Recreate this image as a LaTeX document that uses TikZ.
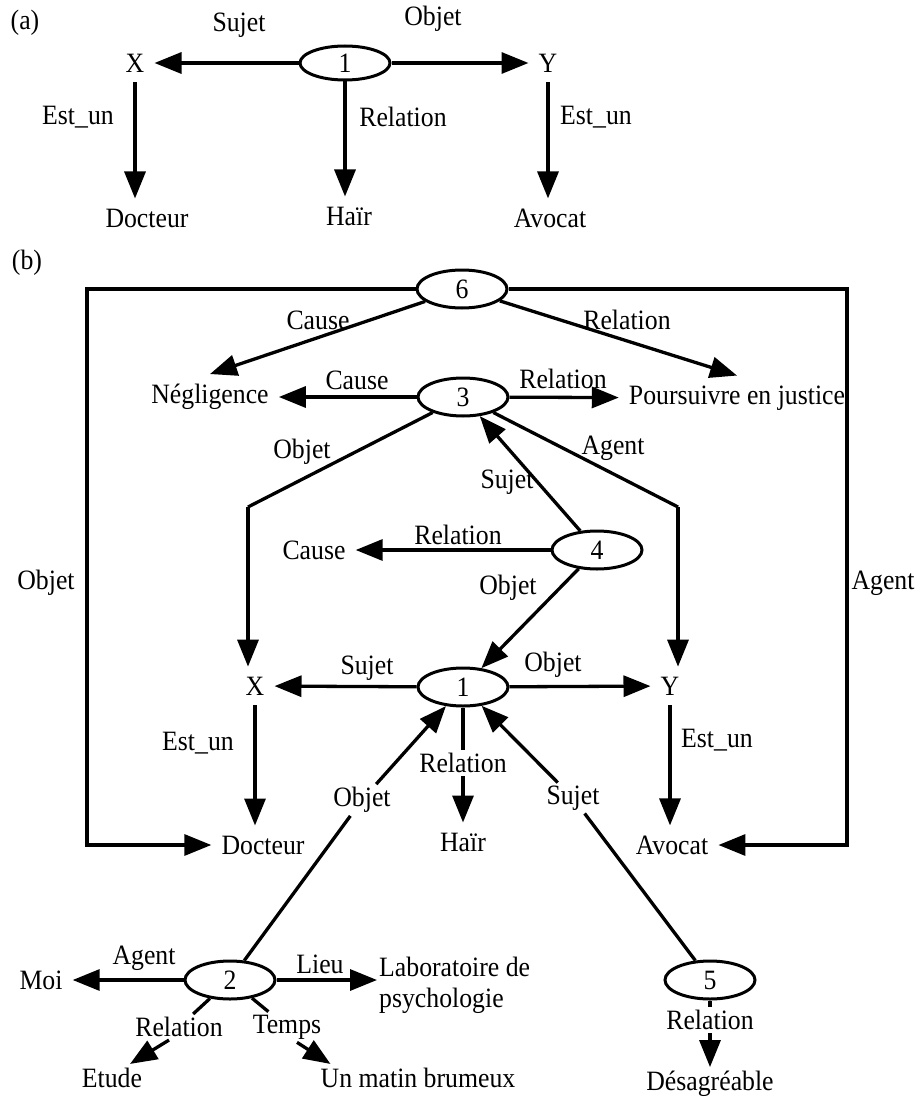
\documentclass[tikz,border=0pt]{standalone}
\usepackage{fontspec}
\setmainfont{Liberation Serif}[FakeStretch=0.92]
\usetikzlibrary{arrows.meta,shapes.geometric,calc}
\begin{document}
\begin{tikzpicture}[x=1pt,y=-1pt,
  every node/.style={font=\fontsize{28}{31}\selectfont},
  term/.style={inner sep=10pt},
  terms/.style={inner sep=4pt},
  lab/.style={inner sep=3pt},
  ell/.style={draw,ellipse,line width=3pt,minimum width=90pt,minimum height=38pt,inner sep=0pt},
  ln/.style={line width=3.3pt,line join=miter},
  arr/.style={ln,-{Triangle[length=27pt,width=21pt]}}]
\fill[white] (0,0) rectangle (920,1099);
\useasboundingbox (0,0) rectangle (920,1099);

% ---------------- (a) ----------------
\node[lab] (pa) at (25,23) {(a)};
\node[term] (Xa) at (135,63) {X};
\node[ell,minimum height=34pt] (e1a) at (345,63) {1};
\node[term] (Ya) at (548,63) {Y};
\node[term] (Doca) at (147,218) {Docteur};
\node[term] (Haira) at (349,216) {Haïr};
\node[term] (Avoa) at (550,218) {Avocat};
\node[lab] (sa) at (239,25) {Sujet};
\node[lab] (oa) at (433,19) {Objet};
\node[lab] (ea1) at (78,117) {Est\_un};
\node[lab] (ra) at (403,117) {Relation};
\node[lab] (ea2) at (596,117) {Est\_un};
\draw[arr] (e1a) -- (Xa);
\draw[arr] (e1a) -- (Ya);
\draw[arr] (Xa.south) -- (Xa.south |- Doca.north);
\draw[arr] (e1a.south) -- (e1a.south |- Haira.north);
\draw[arr] (Ya.south) -- (Ya.south |- Avoa.north);

% ---------------- (b) ----------------
\node[lab] (pb) at (27,263) {(b)};
\node[ell] (e6) at (462,289) {6};
\node[ell] (e3) at (463,397) {3};
\node[ell] (e4) at (597,550) {4};
\node[ell] (e1) at (463,687) {1};
\node[ell] (e2) at (230,980) {2};
\node[ell] (e5) at (710,980) {5};

\node[term] (Neg) at (210,397) {Négligence};
\node[term] (Pours) at (737,398) {Poursuivre en justice};
\node[term] (Cause4) at (314,550) {Cause};
\node[term] (Xb) at (255,686) {X};
\node[term] (Yb) at (670,686) {Y};
\node[term] (Docb) at (263,845) {Docteur};
\node[term] (Hairb) at (463,842) {Haïr};
\node[term] (Avob) at (672,845) {Avocat};
\node[term] (Moi) at (41,980) {Moi};
\node[inner sep=2pt,anchor=west,align=left] (Labo) at (377,985) {Laboratoire de\\psychologie};
\node[terms] (Etude) at (112,1078) {Etude};
\node[terms] (Unmatin) at (418,1078) {Un matin brumeux};
\node[terms] (Des) at (710,1084) {Désagréable};

\coordinate (tl) at (87,289);
\coordinate (bl) at (87,845);
\coordinate (tr) at (847,289);
\coordinate (br) at (847,845);
\coordinate (cornerL) at (248,507);
\coordinate (cornerR) at (678,507);

% edge labels
\node[lab] (Cause6) at (318,320) {Cause};
\node[lab] (Relation6) at (627,320) {Relation};
\node[lab] (Cause3) at (357,380) {Cause};
\node[lab] (Relation3) at (563,379) {Relation};
\node[lab] (Objet3) at (302,452) {Objet};
\node[lab] (Agent3) at (613,448) {Agent};
\node[lab] (Sujet4) at (507,482) {Sujet};
\node[lab] (Relation4) at (458,535) {Relation};
\node[lab] (Objet41) at (508,588) {Objet};
\node[lab] (ObjetL) at (46,583) {Objet};
\node[lab] (AgentR) at (883,583) {Agent};
\node[lab] (Sujet1) at (367,668) {Sujet};
\node[lab] (Objet1) at (553,665) {Objet};
\node[lab] (EstL) at (198,743) {Est\_un};
\node[lab] (EstR) at (717,740) {Est\_un};
\node[lab] (Relation1) at (463,763) {Relation};
\node[lab] (Objet21) at (362,800) {Objet};
\node[lab] (Sujet51) at (573,798) {Sujet};
\node[lab] (Agent2) at (144,958) {Agent};
\node[lab] (Lieu2) at (320,964) {Lieu};
\node[lab] (Relation2) at (179,1027) {Relation};
\node[lab] (Temps2) at (287,1027) {Temps};
\node[lab] (Relation5) at (710,1020) {Relation};

% connectors
\draw[arr] (e6) -- (tl) -- (bl) -- (Docb);
\draw[arr] (e6) -- (tr) -- (br) -- (Avob);
\draw[arr] (e6) -- (Neg.north);
\draw[arr] (e6) -- (Pours.north);
\draw[arr] (e3) -- (Neg);
\draw[arr] (e3) -- (Pours);
\draw[ln] (e3) -- (cornerL);
\draw[arr] (cornerL) -- (cornerL |- Xb.north);
\draw[ln] (e3) -- (cornerR);
\draw[arr] (cornerR) -- (cornerR |- Yb.north);
\draw[arr] (e4) -- (e3);
\draw[arr] (e4) -- (Cause4);
\draw[arr] (e4) -- (e1);
\draw[arr] (e1) -- (Xb);
\draw[arr] (e1) -- (Yb);
\draw[arr] (Xb.south) -- (Xb.south |- Docb.north);
\draw[arr] (Yb.south) -- (Yb.south |- Avob.north);
\draw[ln] (e1) -- (Relation1);
\draw[arr] (Relation1) -- (Hairb);
\draw[ln] (e2) -- (Objet21);
\draw[arr] (Objet21) -- (e1);
\draw[ln] (e5) -- (Sujet51);
\draw[arr] (Sujet51) -- (e1);
\draw[arr] (e2) -- (Moi);
\draw[arr] (e2) -- (e2 -| Labo.west);
\draw[ln] (e2) -- (Relation2);
\draw[arr] ([xshift=-10pt]Relation2.south) -- ([xshift=18pt]Etude.north);
\draw[ln] (e2) -- (Temps2);
\draw[arr] ([xshift=10pt]Temps2.south) -- ([xshift=14pt]Unmatin.north west);
\draw[ln] (e5) -- (Relation5);
\draw[arr] (Relation5) -- (Des);
\end{tikzpicture}
\end{document}
